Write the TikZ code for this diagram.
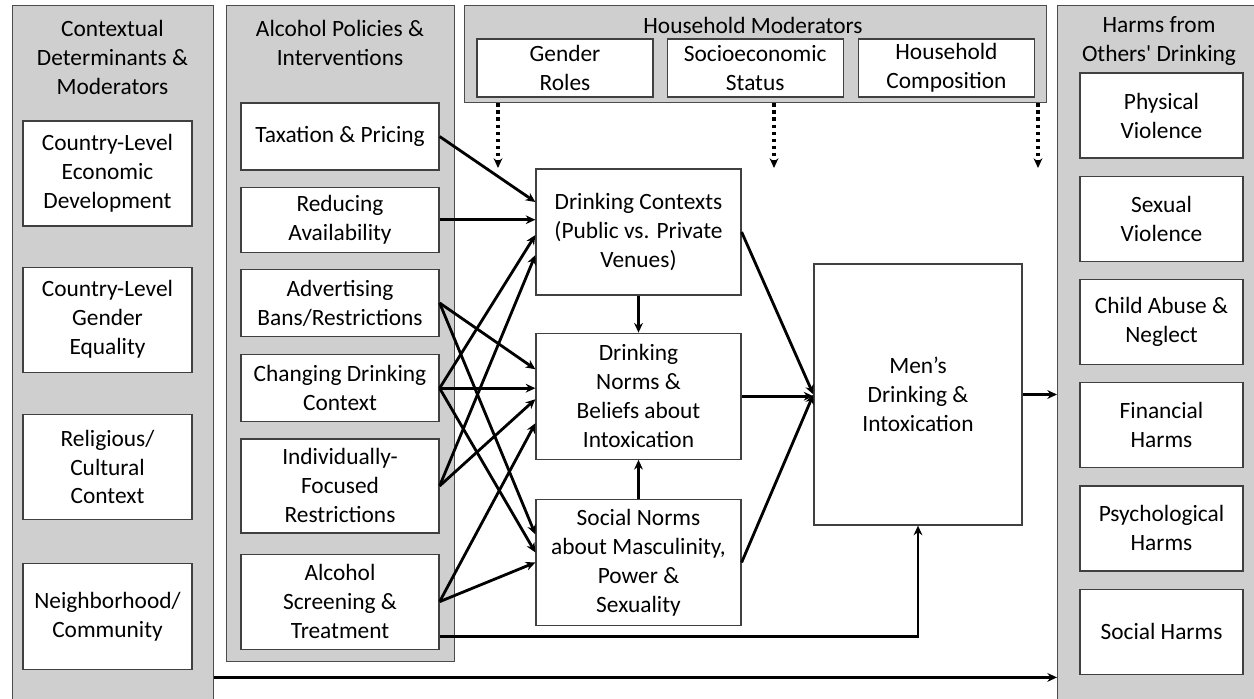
\documentclass[tikz,border=0pt]{standalone}
\usepackage{fontspec}
\setmainfont{Carlito}[Ligatures=TeXOff]
\usepackage{tikz}
\usetikzlibrary{arrows.meta,positioning}

\begin{document}
\begin{tikzpicture}[
  node distance=0.32cm and 0.26cm,
  txt/.style={font=\fontsize{13.3}{16.5}\selectfont, align=center},
  panel/.style={rectangle, draw=black!70, line width=0.8pt, fill=black!19, anchor=north west},
  box/.style={rectangle, draw=black!75, line width=0.7pt, fill=white, inner sep=2pt, txt},
  ctxbox/.style={box, minimum width=3.38cm, minimum height=2.1cm},
  polbox/.style={box, minimum width=3.96cm, minimum height=1.34cm},
  hhbox/.style={box, minimum width=3.52cm, minimum height=1.16cm},
  medbox/.style={box, minimum width=4.1cm, minimum height=2.52cm},
  harmbox/.style={box, minimum width=3.26cm, minimum height=1.7cm},
  arrow/.style={-{Stealth[length=5.5pt,width=5pt]}, line width=1.6pt},
  dotarrow/.style={arrow, line width=2pt, dash pattern=on 2pt off 2pt},
]
\useasboundingbox (0,0) rectangle (25.08,-13.96);

%% --- Panels ---
\node[panel, minimum width=4.02cm, minimum height=14cm]    (ctxpanel)  at (0.24,-0.10) {};
\node[panel, minimum width=4.56cm, minimum height=13.12cm] (polpanel)  at (4.52,-0.10) {};
\node[panel, minimum width=11.64cm, minimum height=1.94cm] (hhpanel)   at (9.28,-0.10) {};
\node[panel, minimum width=4.2cm, minimum height=14cm]     (harmpanel) at (21.14,-0.10) {};

\node[txt] (ctxtitle)  at (2.25,-1.14) {Contextual\\Determinants \&\\Moderators};
\node[txt] (poltitle)  at (6.8,-0.85)  {Alcohol Policies \&\\Interventions};
\node[txt] (hhtitle)   at (15.06,-0.5) {Household Moderators};
\node[txt] (harmtitle) at (23.18,-0.82) {Harms from\\Others' Drinking};

%% --- Contextual determinants (left) ---
\node[ctxbox] (econ) at (2.15,-3.47) {Country-Level\\Economic\\Development};
\node[ctxbox, below=0.8cm of econ]    (gendereq) {Country-Level\\Gender\\Equality};
\node[ctxbox, below=0.82cm of gendereq] (relig)  {Religious/\\Cultural\\Context};
\node[ctxbox, below=0.86cm of relig, minimum height=2.12cm] (neigh) {Neighborhood/\\Community};

%% --- Policies & interventions ---
\node[polbox] (tax) at (6.8,-2.73) {Taxation \& Pricing};
\node[polbox, below=of tax, minimum height=1.3cm] (red) {Reducing\\Availability};
\node[polbox, below=of red]                  (adv) {Advertising\\Bans/Restrictions};
\node[polbox, below=0.34cm of adv]           (chg) {Changing Drinking\\Context};
\node[polbox, below=of chg, minimum height=1.88cm] (ind) {Individually-\\Focused\\Restrictions};
\node[polbox, below=0.4cm of ind, minimum height=1.9cm] (scr) {Alcohol\\Screening \&\\Treatment};

%% --- Household moderators ---
\node[hhbox] (genroles) at (11.3,-1.36) {Gender\\Roles};
\node[hhbox, right=of genroles]      (ses)  {Socioeconomic\\Status};
\node[hhbox, right=0.28cm of ses]    (comp) {Household\\Composition};

%% --- Mediators ---
\node[medbox] (ctx) at (12.77,-4.64) {Drinking Contexts\\(Public vs. Private\\Venues)};
\node[medbox, below=0.74cm of ctx]   (norms) {Drinking\\Norms \&\\Beliefs about\\Intoxication};
\node[medbox, below=0.78cm of norms] (sn)    {Social Norms\\about Masculinity,\\Power \&\\Sexuality};

\node[box, minimum width=4.16cm, minimum height=5.22cm] (men) at (18.36,-7.89) {Men’s\\Drinking \&\\Intoxication};

%% --- Harms (right) ---
\node[harmbox] (phys) at (23.23,-2.31) {Physical\\Violence};
\node[harmbox, below=0.34cm of phys]  (sexv)  {Sexual\\Violence};
\node[harmbox, below=0.34cm of sexv]  (child) {Child Abuse \&\\Neglect};
\node[harmbox, below=0.34cm of child] (fin)   {Financial\\Harms};
\node[harmbox, below=0.34cm of fin]   (psy)   {Psychological\\Harms};
\node[harmbox, below=0.34cm of psy]   (soc)   {Social Harms};

%% --- Moderating effects (dotted) ---
\coordinate (modA) at (9.96,-3.36);
\coordinate (modB) at (15.48,-3.36);
\coordinate (modC) at (20.76,-3.36);
\foreach \m in {modA,modB,modC}
  \draw[dotarrow] (\m |- hhpanel.south) -- (\m);

%% --- Policies -> mediators ---
\draw[arrow] (tax.east) -- ([yshift=0.6cm]ctx.west);
\draw[arrow] (red.east) -- (red.east -| ctx.west);
\draw[arrow] (adv.east) -- ([yshift=0.54cm]norms.west);
\draw[arrow] (adv.east) -- ([yshift=0.56cm]sn.west);
\draw[arrow] (chg.east) -- ([yshift=-0.06cm]ctx.west);
\draw[arrow] (chg.east) -- (chg.east -| norms.west);
\draw[arrow] (chg.east) -- ([yshift=0.2cm]sn.west);
\draw[arrow] (ind.east) -- ([yshift=-0.46cm]ctx.west);
\draw[arrow] (ind.east) -- ([yshift=-0.06cm]norms.west);
\draw[arrow] (scr.east) -- ([yshift=-0.54cm]norms.west);
\draw[arrow] (scr.east) -- (sn.west);
\draw[arrow] ([yshift=-0.69cm]scr.east) -| (men.south);

%% --- Mediators -> men's drinking ---
\draw[arrow] (ctx.south) -- (norms.north);
\draw[arrow] (sn.north)  -- (norms.south);
\draw[arrow] (ctx.east)  -- (men.west);
\draw[arrow] (norms.east) -- (norms.east -| men.west);
\draw[arrow] (sn.east)   -- (men.west);

%% --- Harms ---
\draw[arrow] (men.east) -- (men.east -| harmpanel.west);
\coordinate (allharm) at ([yshift=0.58cm]ctxpanel.south east);
\draw[arrow] (allharm) -- (allharm -| harmpanel.west);

\end{tikzpicture}
\end{document}
